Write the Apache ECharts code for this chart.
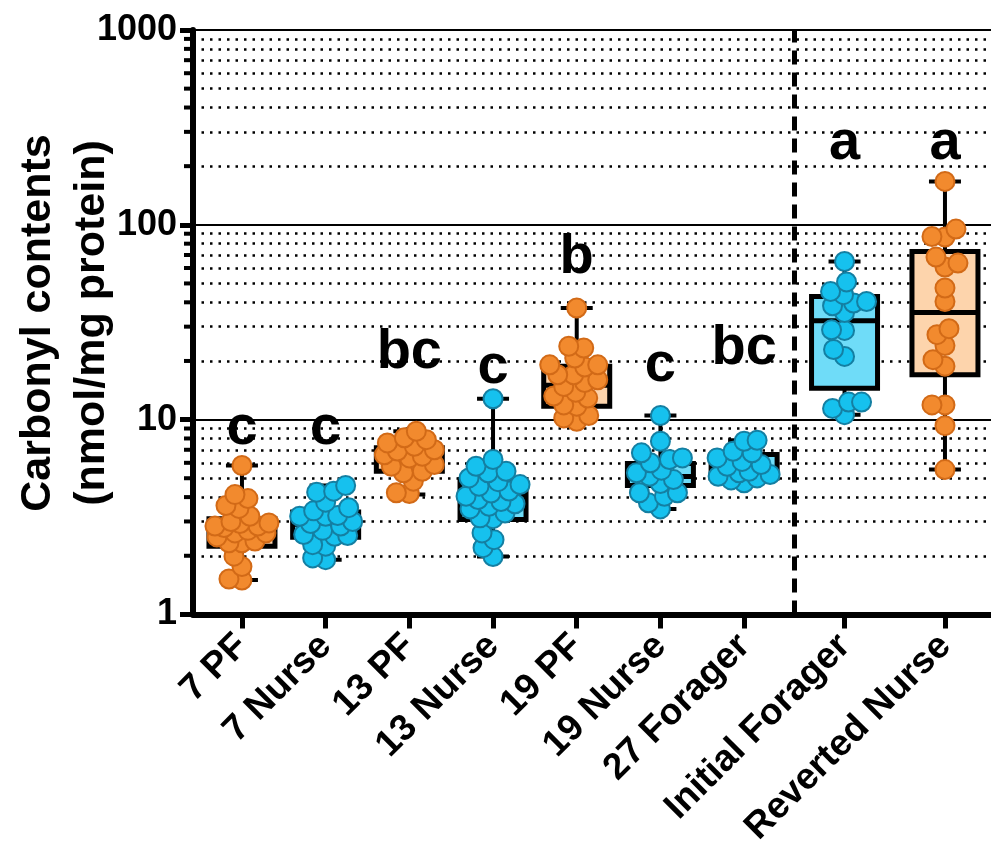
<!DOCTYPE html>
<html>
<head>
<meta charset="utf-8">
<script src="https://cdn.jsdelivr.net/npm/echarts@6/dist/echarts.min.js"></script>
<style>
  html, body { margin: 0; padding: 0; background: #fff; }
  #chart { width: 991px; height: 849px; }
</style>
</head>
<body>
<div id="chart"></div>
<script>
// groups along the x axis
const categories = ['7 PF', '7 Nurse', '13 PF', '13 Nurse', '19 PF', '19 Nurse', '27 Forager', 'Initial Forager', 'Reverted Nurse'];
const xPos = [0, 1, 2, 3, 4, 5, 6, 7.2, 8.4];
const colorGroup = ['orange', 'blue', 'orange', 'blue', 'orange', 'blue', 'blue', 'blue', 'orange'];
const letters = ['c', 'c', 'bc', 'c', 'b', 'c', 'bc', 'a', 'a'];
const letterY = [9.0, 9.0, 22.1, 18.5, 67.7, 18.9, 23.1, 260, 260];
const separatorX = 6.6;

// box plot stats (nmol/mg protein)
const whiskerLow  = [1.50, 1.91, 4.12, 1.98, 9.8, 3.48, 4.74, 10.6, 5.54];
const q1          = [2.24, 2.49, 5.43, 3.07, 11.7, 4.59, 5.02, 14.5, 17.0];
const median      = [2.7, 2.9, 6.4, 4.1, 15.0, 5.1, 5.5, 32.2, 35.5];
const q3          = [3.10, 3.35, 7.16, 4.92, 18.8, 5.95, 6.62, 42.9, 73];
const whiskerHigh = [5.81, 4.59, 8.71, 12.8, 37.4, 10.5, 7.83, 64.8, 167];

// individual points
const pf7 = [5.81, 4.12, 3.93, 3.62, 3.50, 3.19, 2.84, 2.93, 2.95, 2.84, 2.79, 2.62, 2.62, 2.33, 2.33, 2.38, 1.99, 1.76, 1.50, 1.52, 2.7, 2.5, 3.0];
const nurse7 = [4.59, 4.29, 4.24, 3.77, 3.53, 3.22, 3.19, 3.19, 2.93, 2.84, 2.57, 2.54, 2.52, 2.24, 2.28, 1.91, 1.95, 3.0, 2.7, 3.4];
const pf13 = [8.06, 7.59, 7.89, 8.71, 7.30, 6.48, 6.6, 6.36, 5.43, 5.88, 5.76, 5.33, 4.83, 4.21, 4.17, 6.9, 7.0];
const nurse13 = [12.8, 5.76, 6.24, 5.33, 5.43, 5.02, 4.64, 4.55, 4.04, 3.89, 3.59, 3.48, 3.32, 3.10, 3.13, 2.62, 2.42, 2.20, 1.98, 4.3, 4.2, 3.8, 3.7, 4.8];
const pf19 = [37.4, 23.8, 23.3, 20.7, 18.6, 19.1, 19.1, 17.0, 17.0, 14.8, 13.8, 12.9, 13.2, 11.9, 11.7, 10.2, 9.8, 16.0, 15.5, 10.5];
const nurse19 = [10.5, 7.74, 6.75, 6.36, 6.00, 6.24, 5.33, 5.12, 4.92, 4.21, 4.04, 4.21, 3.74, 3.48, 5.5, 4.7];
const forager27 = [7.74, 7.83, 6.88, 6.75, 6.36, 5.88, 5.76, 5.43, 5.22, 5.02, 5.12, 5.33, 4.74, 4.9, 6.1];
const initForager = [64.8, 50.9, 43.8, 45.5, 39.7, 38.4, 40.4, 35.5, 28.7, 28.9, 22.9, 21.1, 12.3, 10.6, 11.4, 12.3];
const revNurse = [167, 95.1, 86.5, 87.1, 63.6, 60.7, 68.3, 47.4, 40.4, 29.3, 27.3, 24.0, 20.3, 18.8, 11.9, 11.9, 9.31, 5.54];
const points = [pf7, nurse7, pf13, nurse13, pf19, nurse19, forager27, initForager, revNurse];

// layout
const GRID = { left: 193, right: 0, top: 30, bottom: 234 };
const X_MIN = -0.585, X_MAX = 8.95;
const UNIT_PX = (991 - GRID.left - GRID.right) / (X_MAX - X_MIN);
const DECADE_PX = (849 - GRID.top - GRID.bottom) / 3;
const FONT = '"Liberation Sans", Arial, sans-serif';
const SWARM_D = 13;     // wanted centre distance, px (dots may overlap)
const SWARM_MAX = 27;   // max sideways offset, px

const COLORS = {
  orange: { dot: '#F28A2E', edge: '#D26A17', box: '#FDD4AC' },
  blue: { dot: '#16C1EE', edge: '#147FA2', box: '#6FDCF8' }
};

// beeswarm: each point goes as close to the centre as it can, inside +-SWARM_MAX;
// when no free spot is left it takes the least crowded one
function swarm(center, vals) {
  const pts = vals.map(v => ({ v: v, y: Math.log10(v) * DECADE_PX })).sort((a, b) => a.y - b.y);
  const placed = [];
  pts.forEach((p, idx) => {
    const cands = [];
    for (let x = -SWARM_MAX; x <= SWARM_MAX; x += 1) cands.push(x);
    let best = null, bestScore = -1;
    cands.forEach(x => {
      let dmin = Infinity;
      placed.forEach(q => {
        const dx = x - q.x, dy = p.y - q.y;
        dmin = Math.min(dmin, Math.sqrt(dx * dx + dy * dy));
      });
      const free = dmin >= SWARM_D;
      // free spots: prefer closest to centre; otherwise most room
      const score = free ? 1000 - Math.abs(x) - (idx % 2 ? (x > 0 ? 0.1 : 0) : (x < 0 ? 0.1 : 0)) : dmin;
      if (score > bestScore) { bestScore = score; best = x; }
    });
    placed.push({ x: best, y: p.y, v: p.v });
  });
  return placed.map(q => [center + q.x / UNIT_PX, q.v]);
}

const orangeDots = [], blueDots = [];
points.forEach((vals, g) => {
  const arr = swarm(xPos[g], vals);
  (colorGroup[g] === 'orange' ? orangeDots : blueDots).push(...arr);
});

const boxData = categories.map((c, g) => [xPos[g], whiskerLow[g], q1[g], median[g], q3[g], whiskerHigh[g], colorGroup[g] === 'orange' ? 0 : 1]);

const minorVals = [];
[1, 10, 100].forEach(d => { for (let m = 2; m <= 9; m++) minorVals.push(m * d); });

function renderBox(params, api) {
  const x = api.value(0);
  const lo = api.coord([x, api.value(1)]);
  const b1 = api.coord([x, api.value(2)]);
  const md = api.coord([x, api.value(3)]);
  const b3 = api.coord([x, api.value(4)]);
  const hi = api.coord([x, api.value(5)]);
  const fill = api.value(6) === 0 ? COLORS.orange.box : COLORS.blue.box;
  const cx = lo[0];
  const bw = 66, cw = 32;
  const ln = { stroke: '#000', lineWidth: 4 };
  return {
    type: 'group',
    children: [
      { type: 'line', shape: { x1: cx, y1: hi[1], x2: cx, y2: lo[1] }, style: ln },
      { type: 'line', shape: { x1: cx - cw / 2, y1: hi[1], x2: cx + cw / 2, y2: hi[1] }, style: ln },
      { type: 'line', shape: { x1: cx - cw / 2, y1: lo[1], x2: cx + cw / 2, y2: lo[1] }, style: ln },
      { type: 'rect', shape: { x: cx - bw / 2, y: b3[1], width: bw, height: b1[1] - b3[1] }, style: { fill: fill, stroke: '#000', lineWidth: 5 } },
      { type: 'line', shape: { x1: cx - bw / 2, y1: md[1], x2: cx + bw / 2, y2: md[1] }, style: { stroke: '#000', lineWidth: 5 } }
    ]
  };
}

const chart = echarts.init(document.getElementById('chart'));
chart.setOption({
  animation: false,
  backgroundColor: '#fff',
  grid: GRID,
  graphic: [{
    type: 'text',
    x: 65, y: 323,
    rotation: Math.PI / 2,
    style: {
      text: 'Carbonyl contents\n(nmol/mg protein)',
      font: 'bold 43px ' + FONT,
      fill: '#000',
      align: 'center',
      verticalAlign: 'middle',
      lineHeight: 54
    }
  }],
  xAxis: {
    type: 'value',
    min: X_MIN,
    max: X_MAX,
    splitLine: { show: false },
    axisLine: { onZero: false, lineStyle: { color: '#000', width: 6 } },
    axisTick: { customValues: xPos, length: 14, lineStyle: { color: '#000', width: 5 } },
    axisLabel: {
      customValues: xPos,
      rotate: 45,
      margin: 26,
      color: '#000',
      fontSize: 37,
      fontWeight: 'bold',
      fontFamily: FONT,
      formatter: v => categories[xPos.findIndex(p => Math.abs(p - v) < 1e-6)] || ''
    }
  },
  yAxis: {
    type: 'log',
    logBase: 10,
    min: 1,
    max: 1000,
    axisLine: { show: true, onZero: false, lineStyle: { color: '#000', width: 6 } },
    axisTick: { show: true, length: 13, lineStyle: { color: '#000', width: 5 } },
    axisLabel: { margin: 16, color: '#000', fontSize: 36, fontWeight: 'bold', fontFamily: FONT, formatter: v => String(Math.round(v)) },
    splitLine: { show: true, lineStyle: { color: '#000', width: 2 } }
  },
  series: [
    {
      // minor ticks + dotted minor grid + dashed separator
      type: 'scatter',
      clip: false,
      silent: true,
      z: 1,
      symbol: 'rect',
      symbolSize: [9, 4],
      symbolOffset: [-4.5, 0],
      itemStyle: { color: '#000', opacity: 1 },
      data: minorVals.map(v => [X_MIN, v]),
      markLine: {
        silent: true,
        z: 1,
        symbol: ['none', 'none'],
        label: { show: false },
        animation: false,
        data: minorVals.map(v => ({ yAxis: v, lineStyle: { type: [2.5, 6], color: '#000', width: 2.5 } }))
          .concat([{ xAxis: separatorX, lineStyle: { type: [14, 8], color: '#000', width: 5 } }])
      }
    },
    {
      type: 'custom',
      z: 3,
      silent: true,
      renderItem: renderBox,
      encode: { x: 0, y: [1, 2, 3, 4, 5] },
      data: boxData
    },
    {
      type: 'scatter',
      z: 4,
      symbolSize: 19,
      itemStyle: { color: COLORS.orange.dot, borderColor: COLORS.orange.edge, borderWidth: 2, opacity: 1 },
      data: orangeDots
    },
    {
      type: 'scatter',
      z: 4,
      symbolSize: 19,
      itemStyle: { color: COLORS.blue.dot, borderColor: COLORS.blue.edge, borderWidth: 2, opacity: 1 },
      data: blueDots
    },
    {
      type: 'scatter',
      z: 5,
      silent: true,
      symbolSize: 0,
      itemStyle: { opacity: 1 },
      label: {
        show: true,
        position: 'inside',
        formatter: '{b}',
        color: '#000',
        fontSize: 56,
        fontWeight: 'bold',
        fontFamily: FONT
      },
      data: letters.map((t, g) => ({ name: t, value: [xPos[g], letterY[g]] }))
    }
  ]
});
</script>
</body>
</html>
